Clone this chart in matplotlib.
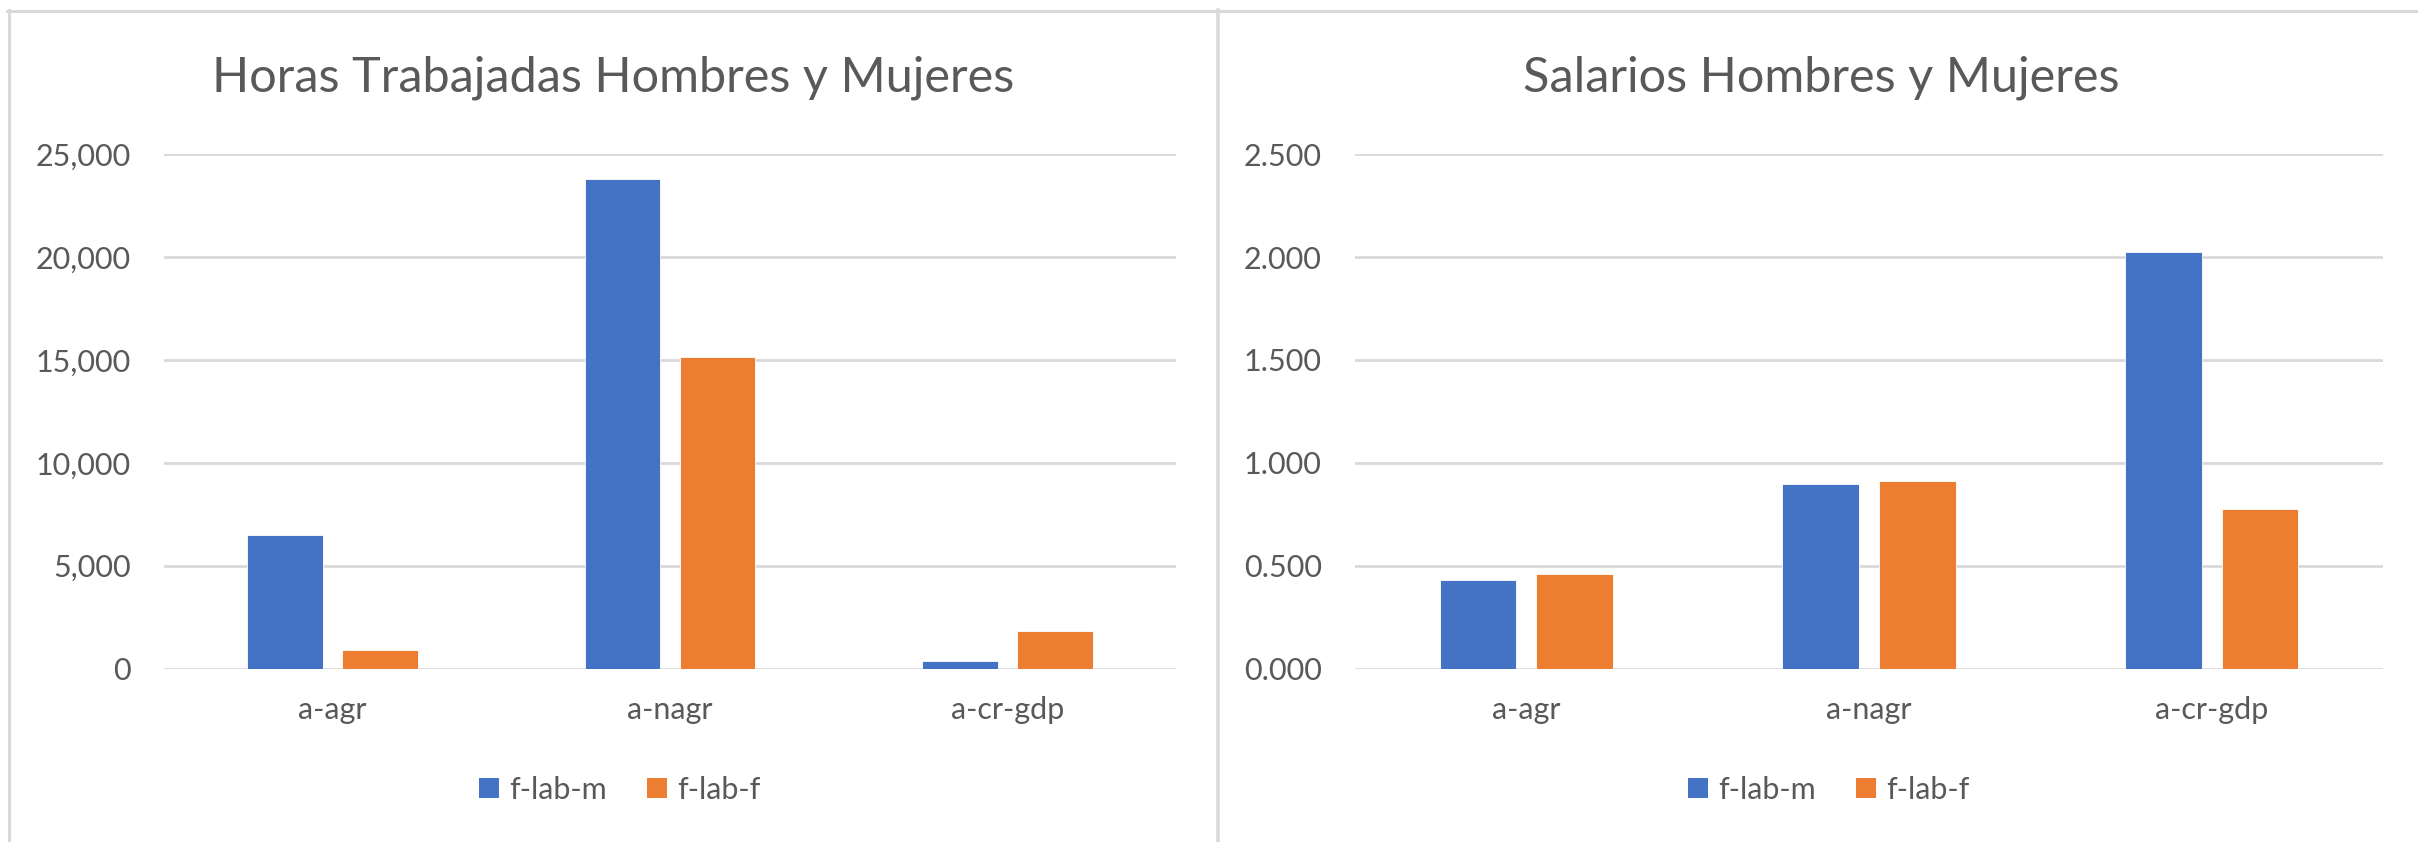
import matplotlib
matplotlib.use("Agg")
import matplotlib.pyplot as plt
from matplotlib.patches import Patch
from matplotlib.lines import Line2D
from matplotlib.ticker import FuncFormatter, MultipleLocator

categories = ['a-agr', 'a-nagr', 'a-cr-gdp']
series_names = ['f-lab-m', 'f-lab-f']
hours_m = [6500, 23800, 370]
hours_f = [900, 15150, 1850]
wage_m = [0.430, 0.895, 2.027]
wage_f = [0.458, 0.913, 0.778]
titles = ['Horas Trabajadas Hombres y Mujeres', 'Salarios Hombres y Mujeres']

BLUE = '#4472C4'
ORANGE = '#ED7D31'
GRID = '#D9D9D9'
TXT = '#595959'
FONT = ['Lato', 'DejaVu Sans']

plt.rcParams['font.family'] = FONT

W, H = 2418, 842
fig = plt.figure(figsize=(W / 100, H / 100), dpi=100)

def fx(px):
    return px / W

def fy(py):
    return 1 - py / H

# panel borders
fig.add_artist(Line2D([fx(7), fx(W)], [fy(10.5), fy(10.5)], color=GRID, lw=2.2))
fig.add_artist(Line2D([fx(9), fx(9)], [fy(10), 0], color=GRID, lw=2.2))
fig.add_artist(Line2D([fx(1218), fx(1218)], [fy(10), 0], color=GRID, lw=2.6))

panels = [
    dict(left=164, right=1176, m=hours_m, f=hours_f, ymax=25000,
         fmt=lambda v, p: f'{v:,.0f}', title_x=613, leg_x=620),
    dict(left=1355, right=2383, m=wage_m, f=wage_f, ymax=2.5,
         fmt=lambda v, p: f'{v:.3f}', title_x=1821, leg_x=1829),
]

top_px, bot_px = 154, 668.6
for i, p in enumerate(panels):
    ax = fig.add_axes([fx(p['left']), fy(bot_px), fx(p['right'] - p['left']),
                       (bot_px - top_px) / H])
    x = list(range(len(categories)))
    bw = 0.224
    off = 0.141
    ax.bar([xi - off for xi in x], p['m'], width=bw, color=BLUE,
           edgecolor='white', linewidth=0.6, zorder=3)
    ax.bar([xi + off for xi in x], p['f'], width=bw, color=ORANGE,
           edgecolor='white', linewidth=0.6, zorder=3)
    ax.set_xlim(-0.5, len(categories) - 0.5)
    ax.yaxis.set_major_locator(MultipleLocator(p['ymax'] / 5))
    ax.yaxis.set_major_formatter(FuncFormatter(p['fmt']))
    ax.grid(axis='y', color=GRID, lw=2.0, zorder=0)
    ax.set_axisbelow(True)
    for s in ax.spines.values():
        s.set_visible(False)
    ax.set_xticks(x)
    ax.set_xticklabels(categories)
    ax.tick_params(axis='both', length=0, labelsize=22, colors=TXT)
    ax.tick_params(axis='y', pad=24)
    ax.tick_params(axis='x', pad=20)
    ax.set_ylim(0, p['ymax'] * 1.0005)

    fig.text(fx(p['title_x']), fy(91), titles[i], ha='center', va='baseline',
             fontsize=35, color=TXT, fontweight='normal')

    handles = [Patch(facecolor=BLUE, edgecolor='none'),
               Patch(facecolor=ORANGE, edgecolor='none')]
    fig.legend(handles, series_names, loc='center',
               bbox_to_anchor=(fx(p['leg_x']), fy(790)), ncol=2, frameon=False,
               fontsize=22, labelcolor=TXT, handlelength=0.65,
               handleheight=0.65, handletextpad=0.35, columnspacing=1.3)

fig.savefig('out.png', dpi=100, facecolor='white')
